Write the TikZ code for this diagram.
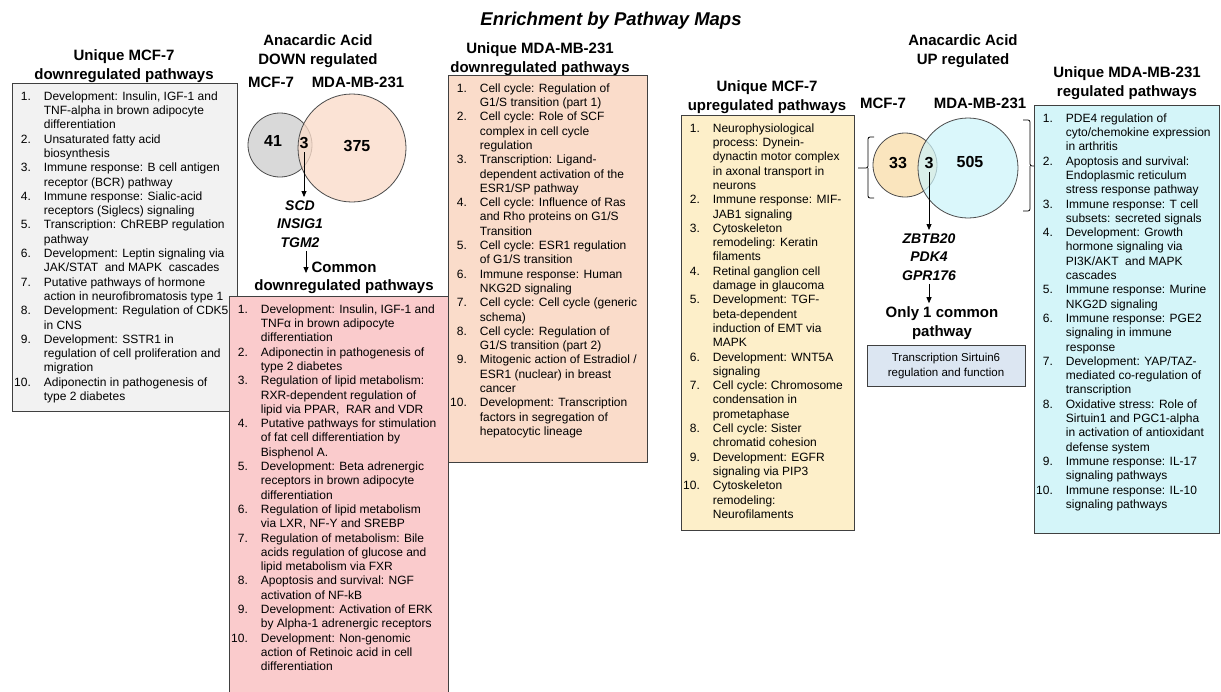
\documentclass[tikz,border=0pt]{standalone}
\usepackage{fontspec}
\setmainfont{Liberation Sans}
\usepackage{xcolor}
\usetikzlibrary{arrows.meta, positioning}

\definecolor{boxgray}{HTML}{F2F2F2}
\definecolor{venngray}{HTML}{D9D9D9}
\definecolor{peach}{HTML}{FADCCA}
\definecolor{pinkbox}{HTML}{FACBCC}
\definecolor{venngold}{HTML}{FAE5BE}
\definecolor{goldbox}{HTML}{FDEFC9}
\definecolor{venncyan}{HTML}{CDF4FA}
\definecolor{cyanbox}{HTML}{D4F5F9}
\definecolor{bluebox}{HTML}{DCE6F2}

\newcommand{\pathlist}[1]{\begin{tabular}{@{}r@{\hspace{13pt}}l@{}}#1\end{tabular}}

\begin{document}
\begin{tikzpicture}[x=1pt, y=-1pt,
    every node/.style={font=\fontsize{12}{14.3}\selectfont},
    listbox/.style={draw=black!75, line width=0.8pt, anchor=north west, inner sep=0pt},
    listtext/.style={anchor=north west, inner sep=0pt, align=left},
    heading/.style={font=\fontsize{15}{18.5}\selectfont\bfseries, align=center},
    gene/.style={font=\fontsize{14}{18.5}\selectfont\bfseries\itshape, align=center},
    count/.style={font=\fontsize{16}{18}\selectfont\bfseries},
    venn/.style={circle, draw=black!70, line width=0.8pt, inner sep=0pt},
    arrow/.style={-{Triangle[width=5pt,length=6pt]}, line width=0.8pt}
]
    \useasboundingbox[fill=white] (0,0) rectangle (1221,691);

    % Title
    \node[font=\fontsize{18.5}{20}\selectfont\bfseries\itshape] (title) at (611,21) {Enrichment by Pathway Maps};

    % Unique MCF-7 downregulated
    \node[heading] (mcfdownhead) at (124,66) {Unique MCF-7\\downregulated pathways};
    \node[listbox, fill=boxgray, minimum width=225pt, minimum height=328pt] (mcfdown) at (12,83) {};
    \node[listtext, below right=7pt and 2pt of mcfdown.north west] (mcfdownlist) {\pathlist{
        1. & Development: Insulin, IGF-1 and\\ & TNF-alpha in brown adipocyte\\ & differentiation\\
        2. & Unsaturated fatty acid\\ & biosynthesis\\
        3. & Immune response: B cell antigen\\ & receptor (BCR) pathway\\
        4. & Immune response: Sialic-acid\\ & receptors (Siglecs) signaling\\
        5. & Transcription: ChREBP regulation\\ & pathway\\
        6. & Development: Leptin signaling via\\ & JAK/STAT\ \ and MAPK\ \ cascades\\
        7. & Putative pathways of hormone\\ & action in neurofibromatosis type 1\\
        8. & Development: Regulation of CDK5\\ & in CNS\\
        9. & Development: SSTR1 in\\ & regulation of cell proliferation and\\ & migration\\
        10. & Adiponectin in pathogenesis of\\ & type 2 diabetes}};

    % DOWN regulated Venn
    \node[heading] (downhead) at (318,51) {Anacardic Acid\\DOWN regulated};
    \node[heading] (dnmcflabel) at (271,82) {MCF-7};
    \node[heading] (dnmdalabel) at (358,82) {MDA-MB-231};
    \node[venn, fill=venngray, minimum size=64pt] (dnmcf) at (280,145) {};
    \node[venn, fill=peach, fill opacity=0.78, minimum size=108pt] (dnmda) at (352,148) {};
    \node[count] (dn41) at (273,141) {41};
    \node[count] (dn3) at (304,143) {3};
    \node[count] (dn375) at (357,146) {375};
    \node[gene] (dngenes) at (300,224) {SCD\\INSIG1\\TGM2};
    \coordinate (dntip) at (306,273);
    \node[heading] (dncommon) at (344,278) {Common\\downregulated pathways};

    \draw[arrow] (dn3.south) -- (dn3.south |- dngenes.north);
    \draw[arrow] (dngenes.south -| dntip) -- (dntip);

    % Common downregulated
    \node[listbox, fill=pinkbox, minimum width=219pt, minimum height=400pt] (common) at (229,296) {};
    \node[listtext, below right=7pt and 2pt of common.north west] (commonlist) {\pathlist{
        1. & Development: Insulin, IGF-1 and\\ & TNFα in brown adipocyte\\ & differentiation\\
        2. & Adiponectin in pathogenesis of\\ & type 2 diabetes\\
        3. & Regulation of lipid metabolism:\\ & RXR-dependent regulation of\\ & lipid via PPAR,\ \ RAR and VDR\\
        4. & Putative pathways for stimulation\\ & of fat cell differentiation by\\ & Bisphenol A.\\
        5. & Development: Beta adrenergic\\ & receptors in brown adipocyte\\ & differentiation\\
        6. & Regulation of lipid metabolism\\ & via LXR, NF-Y and SREBP\\
        7. & Regulation of metabolism: Bile\\ & acids regulation of glucose and\\ & lipid metabolism via FXR\\
        8. & Apoptosis and survival: NGF\\ & activation of NF-kB\\
        9. & Development: Activation of ERK\\ & by Alpha-1 adrenergic receptors\\
        10. & Development: Non-genomic\\ & action of Retinoic acid in cell\\ & differentiation}};

    % Unique MDA-MB-231 downregulated
    \node[heading] (mdadownhead) at (540,59) {Unique MDA-MB-231\\downregulated pathways};
    \node[listbox, fill=peach, minimum width=199pt, minimum height=387pt] (mdadown) at (448,75) {};
    \node[listtext, below right=7pt and 2pt of mdadown.north west] (mdadownlist) {\pathlist{
        1. & Cell cycle: Regulation of\\ & G1/S transition (part 1)\\
        2. & Cell cycle: Role of SCF\\ & complex in cell cycle\\ & regulation\\
        3. & Transcription: Ligand-\\ & dependent activation of the\\ & ESR1/SP pathway\\
        4. & Cell cycle: Influence of Ras\\ & and Rho proteins on G1/S\\ & Transition\\
        5. & Cell cycle: ESR1 regulation\\ & of G1/S transition\\
        6. & Immune response: Human\\ & NKG2D signaling\\
        7. & Cell cycle: Cell cycle (generic\\ & schema)\\
        8. & Cell cycle: Regulation of\\ & G1/S transition (part 2)\\
        9. & Mitogenic action of Estradiol /\\ & ESR1 (nuclear) in breast\\ & cancer\\
        10. & Development: Transcription\\ & factors in segregation of\\ & hepatocytic lineage}};

    % Unique MCF-7 upregulated
    \node[heading] (mcfuphead) at (767,97) {Unique MCF-7\\upregulated pathways};
    \node[listbox, fill=goldbox, minimum width=173pt, minimum height=415pt] (mcfup) at (681,115) {};
    \node[listtext, below right=7pt and 2pt of mcfup.north west] (mcfuplist) {\pathlist{
        1. & Neurophysiological\\ & process: Dynein-\\ & dynactin motor complex\\ & in axonal transport in\\ & neurons\\
        2. & Immune response: MIF-\\ & JAB1 signaling\\
        3. & Cytoskeleton\\ & remodeling: Keratin\\ & filaments\\
        4. & Retinal ganglion cell\\ & damage in glaucoma\\
        5. & Development: TGF-\\ & beta-dependent\\ & induction of EMT via\\ & MAPK\\
        6. & Development: WNT5A\\ & signaling\\
        7. & Cell cycle:\ Chromosome\\ & condensation in\\ & prometaphase\\
        8. & Cell cycle:\ Sister\\ & chromatid cohesion\\
        9. & Development: EGFR\\ & signaling via PIP3\\
        10. & Cytoskeleton\\ & remodeling:\\ & Neurofilaments}};

    % UP regulated Venn
    \node[heading] (uphead) at (963,51) {Anacardic Acid\\UP regulated};
    \node[heading] (upmcflabel) at (883,103) {MCF-7};
    \node[heading] (upmdalabel) at (980,103) {MDA-MB-231};
    \node[venn, fill=venngold, minimum size=64pt] (upmcf) at (905,165) {};
    \node[venn, fill=venncyan, fill opacity=0.72, minimum size=100pt] (upmda) at (968,168) {};
    \node[count] (up33) at (898,163) {33};
    \node[count] (up3) at (929,163) {3};
    \node[count] (up505) at (970,162) {505};
    \node[gene] (upgenes) at (929,257) {ZBTB20\\PDK4\\GPR176};
    \node[heading] (uponly) at (942,323) {Only 1 common\\pathway};
    \node[draw=black!75, line width=0.8pt, fill=bluebox, minimum width=158pt, minimum height=41pt,
        align=center, font=\fontsize{11.5}{15}\selectfont] (sirt) at (946,366) {Transcription Sirtuin6\\regulation and function};

    \draw[arrow] (up3.south) -- (up3.south |- upgenes.north);
    \draw[arrow] (upgenes.south) -- (upgenes.south |- uponly.north);

    % braces
    \draw[line width=0.8pt, rounded corners=2pt] (874,137) -- (868,137) -- (868,168) -- (858,168);
    \draw[line width=0.8pt, rounded corners=2pt] (874,198) -- (868,198) -- (868,168);
    \draw[line width=0.8pt, rounded corners=2pt] (1023,120) -- (1030,120) -- (1030,166) -- (1038,166);
    \draw[line width=0.8pt, rounded corners=2pt] (1023,211) -- (1030,211) -- (1030,166);

    % Unique MDA-MB-231 upregulated
    \node[heading] (mdauphead) at (1127,83) {Unique MDA-MB-231\\regulated pathways};
    \node[listbox, fill=cyanbox, minimum width=185pt, minimum height=428pt] (mdaup) at (1034,105) {};
    \node[listtext, below right=7pt and 2pt of mdaup.north west] (mdauplist) {\pathlist{
        1. & PDE4 regulation of\\ & cyto/chemokine expression\\ & in arthritis\\
        2. & Apoptosis and survival:\\ & Endoplasmic reticulum\\ & stress response pathway\\
        3. & Immune response: T cell\\ & subsets: secreted signals\\
        4. & Development: Growth\\ & hormone signaling via\\ & PI3K/AKT\ \ and MAPK\\ & cascades\\
        5. & Immune response: Murine\\ & NKG2D signaling\\
        6. & Immune response: PGE2\\ & signaling in immune\\ & response\\
        7. & Development: YAP/TAZ-\\ & mediated co-regulation of\\ & transcription\\
        8. & Oxidative stress: Role of\\ & Sirtuin1 and PGC1-alpha\\ & in activation of antioxidant\\ & defense system\\
        9. & Immune response: IL-17\\ & signaling pathways\\
        10. & Immune response: IL-10\\ & signaling pathways}};
\end{tikzpicture}
\end{document}
